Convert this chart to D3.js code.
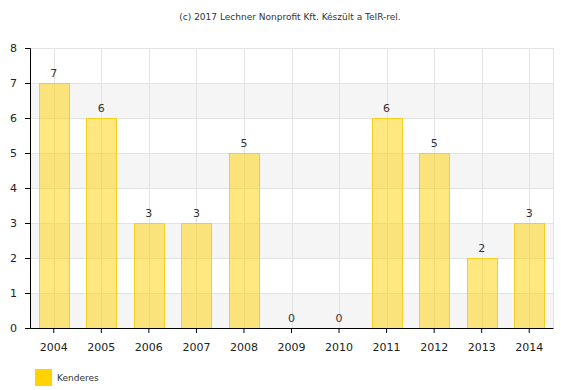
<!DOCTYPE html>
<html>
<head>
<meta charset="utf-8">
<script src="https://cdn.jsdelivr.net/npm/d3@7"></script>
<style>
  body { margin: 0; background: #fff; }
  text { font-family: Tahoma, Verdana, "DejaVu Sans", sans-serif; }
</style>
</head>
<body>
<svg width="561" height="390"></svg>
<script>
var years = ["2004", "2005", "2006", "2007", "2008", "2009", "2010", "2011", "2012", "2013", "2014"];
var values = [7, 6, 3, 3, 5, 0, 0, 6, 5, 2, 3];
var yTicks = [0, 1, 2, 3, 4, 5, 6, 7, 8];
var seriesName = "Kenderes";
var credit = "(c) 2017 Lechner Nonprofit Kft. Készült a TeIR-rel.";

var margin = {left: 30, right: 8, top: 48, bottom: 62};
var svgWidth = 561, svgHeight = 390;
var w = svgWidth - margin.left - margin.right,
    h = svgHeight - margin.top - margin.bottom;

var svg = d3.select("svg");

svg.append("text")
    .attr("x", 290).attr("y", 20)
    .attr("text-anchor", "middle")
    .attr("font-size", "9px")
    .attr("fill", "#333")
    .text(credit);

var g = svg.append("g")
    .attr("transform", "translate(" + margin.left + "," + margin.top + ")");

var x = d3.scaleBand().domain(years).range([0, w]).paddingInner(0.37).paddingOuter(0.185);
var y = d3.scaleLinear().domain([0, 8]).range([h, 0]);

// alternating bands
g.selectAll(".band")
    .data(yTicks.filter(function(d) { return d % 2 == 0 && d < 8; }))
    .enter().append("rect")
    .attr("x", 0).attr("width", w)
    .attr("y", function(d) { return y(d + 1); })
    .attr("height", function(d) { return y(d) - y(d + 1); })
    .attr("fill", "#f5f5f5");

// grid
g.selectAll(".hgrid")
    .data(yTicks)
    .enter().append("line")
    .attr("x1", 0).attr("x2", w)
    .attr("y1", function(d) { return y(d) + 0.5; })
    .attr("y2", function(d) { return y(d) + 0.5; })
    .attr("stroke", "#e3e3e3");

g.selectAll(".vgrid")
    .data(years)
    .enter().append("line")
    .attr("x1", function(d) { return Math.round(x(d) + x.bandwidth() / 2) + 0.5; })
    .attr("x2", function(d) { return Math.round(x(d) + x.bandwidth() / 2) + 0.5; })
    .attr("y1", 0).attr("y2", h)
    .attr("stroke", "#e3e3e3");

g.append("line")
    .attr("x1", w + 0.5).attr("x2", w + 0.5)
    .attr("y1", 0).attr("y2", h)
    .attr("stroke", "#e3e3e3");

// bars
g.selectAll(".bar")
    .data(values)
    .enter().append("rect")
    .attr("x", function(d, i) { return Math.round(x(years[i])) + 0.5; })
    .attr("width", Math.round(x.bandwidth()))
    .attr("y", function(d) { return Math.round(y(d)) + 0.5; })
    .attr("height", function(d) { return y(0) - Math.round(y(d)); })
    .attr("fill", "rgba(255, 210, 0, 0.5)")
    .attr("stroke", "#f5d020")
    .attr("stroke-width", 1);

// value labels
g.selectAll(".lbl")
    .data(values)
    .enter().append("text")
    .attr("x", function(d, i) { return x(years[i]) + x.bandwidth() / 2; })
    .attr("y", function(d) { return y(d) - 6; })
    .attr("text-anchor", "middle")
    .attr("font-size", "11px")
    .attr("fill", "#333")
    .text(function(d) { return d; });

// axes
var yAxis = g.append("g")
    .call(d3.axisLeft(y).tickValues(yTicks).tickSize(5).tickPadding(8).tickFormat(d3.format("d")));
var xAxis = g.append("g")
    .attr("transform", "translate(0," + h + ")")
    .call(d3.axisBottom(x).tickSize(5).tickPadding(10).tickSizeOuter(0));

[yAxis, xAxis].forEach(function(a) {
    a.select(".domain").attr("stroke", "#000");
    a.selectAll(".tick line").attr("stroke", "#000");
    a.selectAll(".tick text").attr("font-size", "11px").attr("fill", "#222")
        .style("font-family", "Tahoma, Verdana, 'DejaVu Sans', sans-serif");
});
yAxis.select(".domain").attr("d", "M-5," + (h + 0.5) + "H0.5V0.5H-5");

// legend
svg.append("rect")
    .attr("x", 35).attr("y", 369)
    .attr("width", 17).attr("height", 17)
    .attr("fill", "#ffd200");
svg.append("text")
    .attr("x", 57).attr("y", 381)
    .attr("font-size", "9px")
    .attr("fill", "#333")
    .text(seriesName);
</script>
</body>
</html>
